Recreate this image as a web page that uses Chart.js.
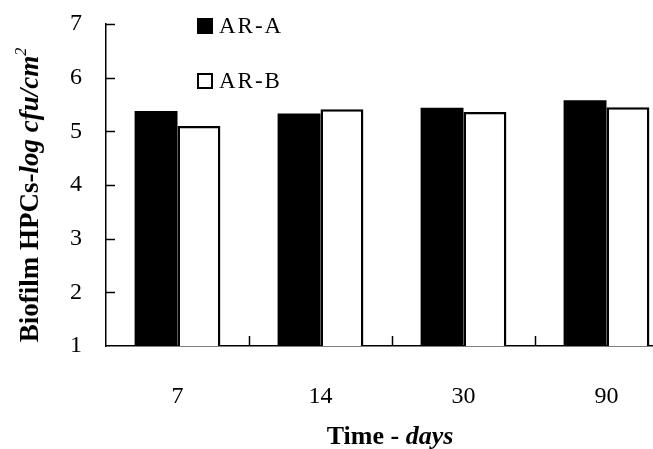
<!DOCTYPE html>
<html>
<head>
<meta charset="utf-8">
<script src="https://cdn.jsdelivr.net/npm/chart.js@4.4.0/dist/chart.umd.min.js"></script>
<style>
  html, body { margin: 0; padding: 0; background: #fff; overflow: hidden; }
  #wrap { width: 653px; height: 449px; overflow: hidden; position: relative; }
  #box { width: 700px; height: 449px; }
</style>
</head>
<body>
<div id="wrap"><div id="box"><canvas id="chart"></canvas></div></div>
<script>
// data
const days = ['7', '14', '30', '90'];
const arA = [5.38, 5.33, 5.44, 5.58];
const arB = [5.10, 5.41, 5.36, 5.45];
const yTicks = [1, 2, 3, 4, 5, 6, 7];

const serif = '"Liberation Serif", "Times New Roman", serif';

// ticks drawn inside the plot, legend and the mixed-style axis titles
const extras = {
    id: 'extras',
    afterDraw(chart) {
        const { ctx, chartArea: area } = chart;
        const x = chart.scales.x, y = chart.scales.y;
        ctx.save();
        ctx.strokeStyle = '#000';
        ctx.lineWidth = 1.5;
        // y ticks pointing right
        yTicks.forEach(v => {
            if (v === 1) return;
            const py = Math.round(y.getPixelForValue(v)) + 0.5;
            ctx.beginPath();
            ctx.moveTo(area.left, py);
            ctx.lineTo(area.left + 9, py);
            ctx.stroke();
        });
        // x ticks at category boundaries pointing up
        for (let i = 0; i < days.length - 1; i++) {
            const px = Math.round((x.getPixelForValue(i) + x.getPixelForValue(i + 1)) / 2) + 0.5;
            ctx.beginPath();
            ctx.moveTo(px, area.bottom);
            ctx.lineTo(px, area.bottom - 10);
            ctx.stroke();
        }

        // legend
        const items = [
            { label: 'AR-A', fill: '#000', top: 18 },
            { label: 'AR-B', fill: '#fff', top: 73 }
        ];
        ctx.font = '23px ' + serif;
        ctx.letterSpacing = '2px';
        ctx.textBaseline = 'middle';
        ctx.textAlign = 'left';
        items.forEach(it => {
            ctx.fillStyle = it.fill;
            ctx.fillRect(197, it.top, 16, 16);
            ctx.lineWidth = 2;
            ctx.strokeRect(198, it.top + 1, 14, 14);
            ctx.fillStyle = '#000';
            ctx.fillText(it.label, 219, it.top + 9);
        });
        ctx.letterSpacing = '0px';

        // x axis title: "Time - days"
        const xParts = [
            { t: 'Time - ', f: 'bold 26px ' + serif },
            { t: 'days', f: 'italic bold 26px ' + serif }
        ];
        let w = 0;
        xParts.forEach(p => { ctx.font = p.f; w += ctx.measureText(p.t).width; });
        let cx = 390 - w / 2;
        ctx.textBaseline = 'alphabetic';
        xParts.forEach(p => { ctx.font = p.f; ctx.fillText(p.t, cx, 444); cx += ctx.measureText(p.t).width; });

        // y axis title: "Biofilm HPCs-log cfu/cm2"
        const yParts = [
            { t: 'Biofilm HPCs-', f: 'bold 27px ' + serif, dy: 0 },
            { t: 'log cfu/cm', f: 'italic bold 27px ' + serif, dy: 0 },
            { t: '2', f: 'italic 16px ' + serif, dy: -12 }
        ];
        w = 0;
        yParts.forEach(p => { ctx.font = p.f; w += ctx.measureText(p.t).width; });
        ctx.translate(38, 195);
        ctx.rotate(-Math.PI / 2);
        cx = -w / 2;
        yParts.forEach(p => { ctx.font = p.f; ctx.fillText(p.t, cx, p.dy); cx += ctx.measureText(p.t).width; });
        ctx.restore();
    }
};

new Chart(document.getElementById('chart'), {
    type: 'bar',
    data: {
        labels: days,
        datasets: [
            { label: 'AR-A', data: arA, backgroundColor: '#000', borderColor: '#000', borderWidth: 0 },
            { label: 'AR-B', data: arB, backgroundColor: '#fff', borderColor: '#000', borderWidth: 2.5, borderSkipped: 'bottom' }
        ]
    },
    options: {
        responsive: true,
        maintainAspectRatio: false,
        animation: false,
        devicePixelRatio: 1,
        layout: { padding: { top: 24, right: 22, left: 0, bottom: 0 } },
        plugins: { legend: { display: false }, tooltip: { enabled: false } },
        datasets: { bar: { categoryPercentage: 0.6, barPercentage: 1 } },
        scales: {
            x: {
                grid: { display: false, drawTicks: false },
                border: { display: true, color: '#000', width: 1.5 },
                ticks: { color: '#000', padding: 36, font: { family: serif, size: 24 } },
                afterFit: s => { s.height = 103; s.paddingLeft = 0; s.paddingRight = 0; }
            },
            y: {
                min: 1,
                max: 7,
                grid: { display: false, drawTicks: false },
                border: { display: true, color: '#000', width: 1.5 },
                ticks: { stepSize: 1, color: '#000', padding: 24, font: { family: serif, size: 24 } },
                afterFit: s => { s.width = 106; s.paddingTop = 0; s.paddingBottom = 0; }
            }
        }
    },
    plugins: [extras]
});
</script>
</body>
</html>
